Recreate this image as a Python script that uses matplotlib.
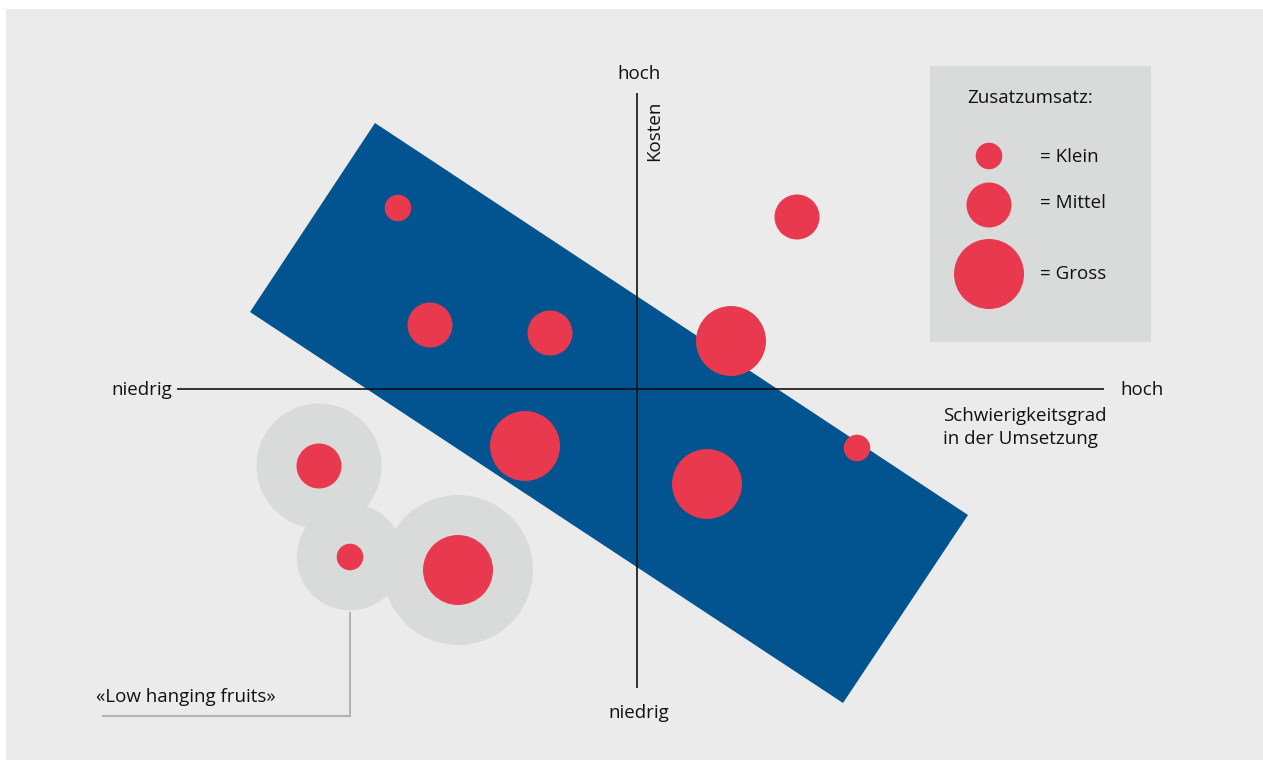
import matplotlib
matplotlib.use("Agg")
import matplotlib.pyplot as plt
from matplotlib.patches import Circle, Polygon, Rectangle

plt.rcParams['font.family'] = ['Open Sans', 'DejaVu Sans']

# ---------------- data ----------------
# x = Schwierigkeitsgrad in der Umsetzung, y = Kosten (axis cross at 0,0)
difficulty = [-23.9, 16.0, -20.7, -8.7, 9.4, 22.0, -11.2, 7.0, -31.8, -28.7, -17.9]
cost = [18.1, 17.2, 6.4, 5.6, 4.8, -5.9, -5.7, -9.5, -7.7, -16.8, -18.1]
revenue = ["Klein", "Mittel", "Mittel", "Mittel", "Gross", "Klein",
           "Gross", "Gross", "Mittel", "Klein", "Gross"]
low_hanging = [False, False, False, False, False, False,
               False, False, True, True, True]
size_classes = ["Klein", "Mittel", "Gross"]
size_radius = {"Klein": 1.33, "Mittel": 2.25, "Gross": 3.5}

# focus zone (tilted band)
zone_x = [-26.2, 33.1, 20.6, -38.7]
zone_y = [26.6, -12.6, -31.4, 7.7]

x_axis_range = (-46.0, 46.7)
y_axis_range = (-29.9, 29.6)

# ---------------- style ----------------
BG = "#ebebeb"
BLUE = "#01548f"
RED = "#e8394f"
HALO = "#d9dbda"
LEG = "#d9dbda"
TXT = "#111111"
FS = 13.5

W, H = 1263, 760
fig = plt.figure(figsize=(W / 100, H / 100), dpi=100, facecolor="white")
ax = fig.add_axes([6 / W, 0, (W - 6) / W, (H - 9) / H])
ax.set_facecolor(BG)
ax.set_xlim(-63.1, 62.6)
ax.set_ylim(-37.1, 38.0)
ax.set_xticks([])
ax.set_yticks([])
for s in ax.spines.values():
    s.set_visible(False)

# focus band
ax.add_patch(Polygon(list(zip(zone_x, zone_y)), closed=True, facecolor=BLUE,
                     edgecolor="none", zorder=1))

# halos for low hanging fruits
for x, y, r, lh in zip(difficulty, cost, revenue, low_hanging):
    if lh:
        ax.add_patch(Circle((x, y), size_radius[r] + 4.0, facecolor=HALO,
                            edgecolor="none", zorder=2))

# axes cross
ax.plot(x_axis_range, [0, 0], color=TXT, lw=1.2, zorder=3, solid_capstyle="butt")
ax.plot([0, 0], y_axis_range, color=TXT, lw=1.2, zorder=3, solid_capstyle="butt")

# bubbles
for x, y, r in zip(difficulty, cost, revenue):
    ax.add_patch(Circle((x, y), size_radius[r], facecolor=RED,
                        edgecolor="none", zorder=4))

# leader line for low hanging fruits
ax.plot([-28.7, -28.7, -53.4], [-22.4, -32.7, -32.7], color="#b3b3b3",
        lw=1.5, zorder=2, solid_joinstyle="miter")

# axis labels
ax.text(0.2, 31.0, "hoch", ha="center", va="baseline", fontsize=FS, color=TXT)
ax.text(0.2, -32.9, "niedrig", ha="center", va="baseline", fontsize=FS, color=TXT)
ax.text(-46.5, -0.6, "niedrig", ha="right", va="baseline", fontsize=FS, color=TXT)
ax.text(48.3, -0.6, "hoch", ha="left", va="baseline", fontsize=FS, color=TXT)
ax.text(1.75, 25.85, "Kosten", ha="center", va="center", rotation=90,
        fontsize=FS, color=TXT)
ax.text(30.6, -3.2, "Schwierigkeitsgrad", ha="left", va="baseline",
        fontsize=FS, color=TXT)
ax.text(30.6, -5.5, "in der Umsetzung", ha="left", va="baseline",
        fontsize=FS, color=TXT)
ax.text(-54.1, -31.3, "\u00abLow hanging fruits\u00bb", ha="left", va="baseline",
        fontsize=FS, color=TXT)

# legend
ax.add_patch(Rectangle((29.3, 4.7), 22.1, 27.6, facecolor=LEG, edgecolor="none",
                       zorder=1))
ax.text(33.0, 28.6, "Zusatzumsatz:", ha="left", va="baseline", fontsize=FS,
        color=TXT)
leg_y = [23.3, 18.4, 11.5]
leg_text_y = [22.7, 18.1, 11.0]
for cls, ly, ty in zip(size_classes, leg_y, leg_text_y):
    ax.add_patch(Circle((35.2, ly), size_radius[cls], facecolor=RED,
                        edgecolor="none", zorder=4))
    ax.text(40.3, ty, "= " + cls, ha="left", va="baseline", fontsize=FS,
            color=TXT)

fig.savefig("out.png", dpi=100, facecolor="white")
